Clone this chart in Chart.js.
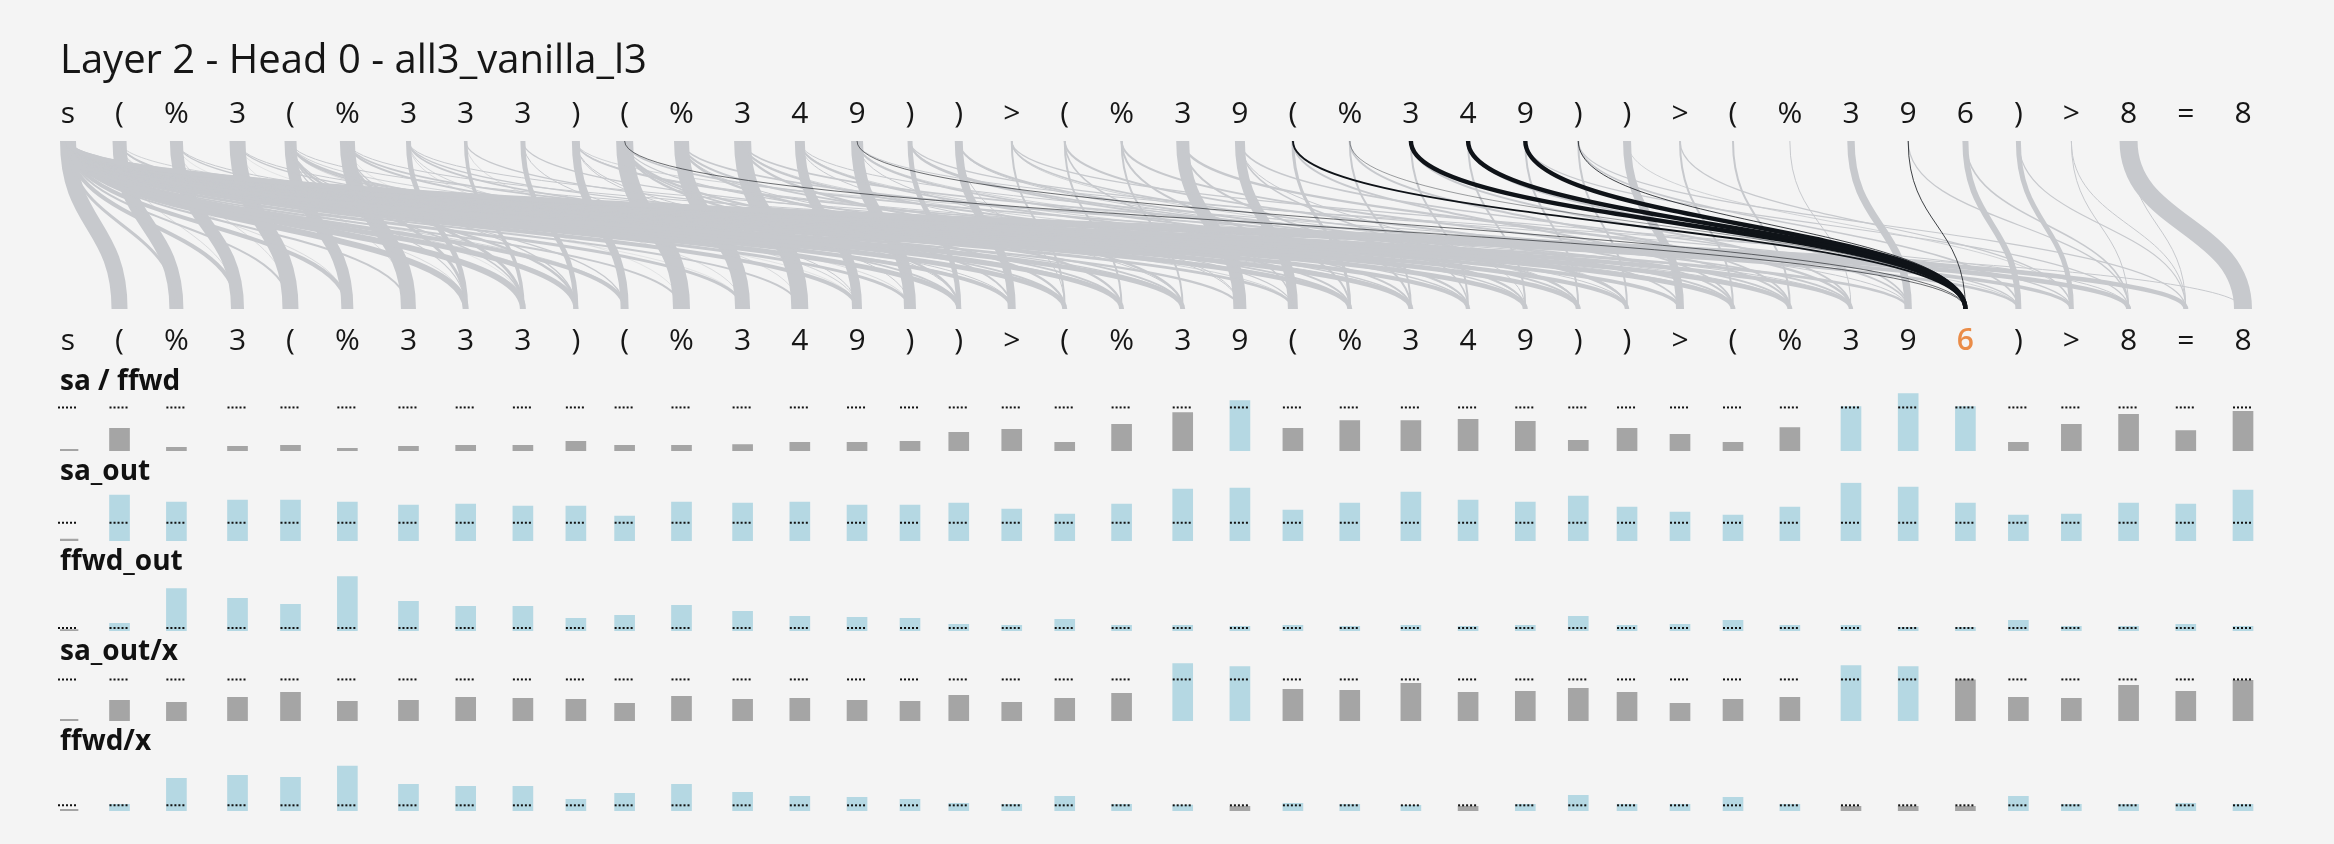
<!DOCTYPE html>
<html>
<head>
<meta charset="utf-8">
<script src="https://cdn.jsdelivr.net/npm/chart.js@4.4.1/dist/chart.umd.min.js"></script>
<style>
  html, body { margin: 0; padding: 0; background: #f4f4f4; }
  #page { position: relative; width: 2334px; height: 844px; overflow: hidden; }
  canvas { position: absolute; left: 0; }
</style>
</head>
<body>
<div id="page">
  <canvas id="attn" width="2334" height="374" style="top:0px"></canvas>
  <canvas id="row0" width="2334" height="92" style="top:361px"></canvas>
  <canvas id="row1" width="2334" height="92" style="top:451px"></canvas>
  <canvas id="row2" width="2334" height="92" style="top:541px"></canvas>
  <canvas id="row3" width="2334" height="92" style="top:631px"></canvas>
  <canvas id="row4" width="2334" height="92" style="top:721px"></canvas>
</div>
<script>
var title = 'Layer 2 - Head 0 - all3_vanilla_l3';
var tokens = ['s','(','%','3','(','%','3','3','3',')','(','%','3','4','9',')',')','>','(','%',
              '3','9','(','%','3','4','9',')',')','>','(','%','3','9','6',')','>','8','=','8'];
var focusIndex = 34;

// attention of each query (bottom token): [key index (top token), weight]
var attnRows = [
  [],
  [[0, 0.8]],
  [[1, 0.7], [0, 0.15]],
  [[2, 0.65], [0, 0.2], [1, 0.03]],
  [[3, 0.8], [0, 0.1], [2, 0.03]],
  [[4, 0.6], [0, 0.2], [1, 0.03]],
  [[5, 0.75], [0, 0.1], [4, 0.03]],
  [[6, 0.25], [0, 0.3], [5, 0.15], [4, 0.06], [2, 0.03]],
  [[7, 0.18], [0, 0.3], [5, 0.15], [4, 0.08], [3, 0.02]],
  [[8, 0.25], [0, 0.25], [4, 0.12], [5, 0.06], [1, 0.03]],
  [[9, 0.4], [0, 0.2], [4, 0.06], [1, 0.04]],
  [[10, 0.85], [0, 0.1], [5, 0.02]],
  [[11, 0.75], [0, 0.15], [6, 0.03], [2, 0.02]],
  [[12, 0.85], [0, 0.1], [7, 0.03]],
  [[13, 0.5], [0, 0.2], [8, 0.05], [6, 0.04], [3, 0.02]],
  [[14, 0.6], [0, 0.15], [9, 0.05], [4, 0.03]],
  [[15, 0.25], [0, 0.25], [10, 0.12], [4, 0.08], [9, 0.05], [1, 0.04]],
  [[16, 0.4], [0, 0.2], [1, 0.06], [10, 0.08], [4, 0.05]],
  [[17, 0.1], [0, 0.25], [10, 0.12], [4, 0.1], [1, 0.06], [16, 0.05]],
  [[18, 0.1], [0, 0.25], [11, 0.12], [5, 0.1], [2, 0.06]],
  [[19, 0.1], [0, 0.25], [12, 0.12], [6, 0.08], [3, 0.06], [11, 0.05]],
  [[20, 0.65], [0, 0.12], [13, 0.05], [14, 0.05]],
  [[21, 0.5], [0, 0.15], [18, 0.08], [10, 0.06], [4, 0.04]],
  [[22, 0.15], [0, 0.25], [19, 0.1], [11, 0.1], [5, 0.08], [2, 0.05]],
  [[23, 0.1], [0, 0.25], [12, 0.1], [20, 0.1], [6, 0.06], [3, 0.05]],
  [[24, 0.1], [0, 0.22], [13, 0.1], [21, 0.08], [7, 0.06], [12, 0.04]],
  [[25, 0.1], [0, 0.25], [14, 0.1], [8, 0.06], [21, 0.05], [13, 0.04]],
  [[26, 0.1], [0, 0.25], [15, 0.1], [9, 0.08], [16, 0.05], [14, 0.04]],
  [[27, 0.1], [0, 0.22], [16, 0.1], [15, 0.08], [9, 0.05], [17, 0.04]],
  [[28, 0.4], [0, 0.2], [17, 0.08], [1, 0.04]],
  [[29, 0.1], [0, 0.25], [18, 0.1], [22, 0.1], [10, 0.08], [4, 0.05]],
  [[30, 0.1], [0, 0.25], [19, 0.1], [23, 0.1], [11, 0.08], [5, 0.05]],
  [[31, 0.05], [0, 0.22], [24, 0.1], [20, 0.12], [12, 0.08], [6, 0.05]],
  [[32, 0.37], [0, 0.15], [25, 0.08], [21, 0.08], [13, 0.05]],
  [[22, 0.09], [24, 0.22], [25, 0.22], [26, 0.22], [27, 0.04], [33, 0.04], [14, 0.03], [10, 0.03], [23, 0.02]],
  [[34, 0.3], [0, 0.15], [27, 0.08], [15, 0.06], [9, 0.04]],
  [[35, 0.25], [0, 0.2], [29, 0.06], [17, 0.06], [28, 0.04]],
  [[36, 0.05], [0, 0.25], [34, 0.08], [26, 0.06], [33, 0.06], [14, 0.05]],
  [[37, 0.05], [0, 0.25], [35, 0.06], [27, 0.06], [36, 0.05]],
  [[37, 0.9], [0, 0.05]]
];

var rowLabels = ['sa / ffwd', 'sa_out', 'ffwd_out', 'sa_out/x', 'ffwd/x'];
var saFfwd = [0.04, 0.52, 0.084, 0.107, 0.13, 0.06, 0.107, 0.13, 0.13, 0.22, 0.13, 0.13, 0.15, 0.2, 0.2, 0.22, 0.43, 0.5, 0.2, 0.61,
              0.885, 1.16, 0.52, 0.70, 0.70, 0.725, 0.68, 0.245, 0.52, 0.38, 0.2, 0.54, 1.02, 1.32, 1.02, 0.2, 0.61, 0.84, 0.47, 0.91];
var saOut = [0.11, 2.51, 2.13, 2.24, 2.24, 2.13, 1.97, 2.02, 1.91, 1.91, 1.37, 2.13, 2.08, 2.13, 1.97, 1.97, 2.08, 1.75, 1.48, 2.02,
             2.84, 2.9, 1.69, 2.08, 2.68, 2.24, 2.13, 2.46, 1.86, 1.58, 1.42, 1.86, 3.17, 2.95, 2.08, 1.42, 1.48, 2.08, 2.02, 2.79];
var ffwdOut = [0.44, 2.56, 14.2, 10.9, 8.9, 18.2, 9.9, 8.2, 8.2, 4.2, 5.2, 8.6, 6.6, 4.9, 4.6, 4.2, 2.2, 1.9, 3.9, 1.9,
               1.9, 1.56, 1.9, 1.56, 1.9, 1.56, 1.9, 4.9, 1.9, 2.2, 3.6, 1.9, 1.9, 1.2, 1.2, 3.6, 1.56, 1.56, 2.2, 1.56];
var saOutX = [0.04, 0.496, 0.448, 0.568, 0.688, 0.472, 0.496, 0.568, 0.544, 0.52, 0.424, 0.592, 0.52, 0.544, 0.496, 0.472, 0.616, 0.448, 0.544, 0.664,
              1.384, 1.312, 0.76, 0.736, 0.904, 0.688, 0.712, 0.784, 0.688, 0.424, 0.52, 0.568, 1.336, 1.312, 0.99, 0.568, 0.544, 0.856, 0.712, 0.976];
var ffwdX = [0.29, 1.18, 5.76, 6.3, 5.94, 7.9, 4.7, 4.35, 4.35, 2.06, 3.1, 4.7, 3.3, 2.6, 2.4, 2.06, 1.35, 1.18, 2.6, 1.18,
             1.05, 0.82, 1.35, 1.18, 1.02, 0.82, 1.18, 2.76, 1.18, 1.18, 2.4, 1.18, 0.82, 0.82, 0.82, 2.6, 1.18, 1.18, 1.35, 1.18];
var rowValues = [saFfwd, saOut, ffwdOut, saOutX, ffwdX];
var refValue = 1;
var rowMax = [1.341, 3.2, 19.5, 1.405, 10.28];

var INK = '#161616', ORANGE = '#ea8c48', BLUE = '#b5d8e3', GREY = '#a5a5a5';
var LINK_GREY = '#c7c9cd', LINK_DARK = '#0f1318';
var maxLinkWidth = 20;
var FAMILY = '"Open Sans", "Noto Sans", sans-serif';

Chart.defaults.font.family = FAMILY;
Chart.defaults.animation = false;
Chart.defaults.plugins.legend.display = false;
Chart.defaults.plugins.tooltip.enabled = false;

// token x positions follow the text layout: glyph width plus a fixed gap
var measure = document.createElement('canvas').getContext('2d');
measure.font = '400 30px ' + FAMILY;
var tokenGap = 39;
var tokenPos = [];
var cursor = 0;
tokens.forEach(function(t) {
  var w = measure.measureText(t).width;
  tokenPos.push(cursor + w / 2);
  cursor += w + tokenGap;
});
var span = tokenPos[tokenPos.length - 1] - tokenPos[0];
var k = span / 2175;
var xMin = tokenPos[0] - 8 * k;
var xMax = tokenPos[tokenPos.length - 1] + 31 * k;

function tokenAxis(position, pad) {
  return {
    type: 'linear', position: position, min: xMin, max: xMax, offset: false,
    grid: { display: false, drawTicks: false }, border: { display: false },
    afterBuildTicks: function(axis) { axis.ticks = tokenPos.map(function(v) { return { value: v }; }); },
    ticks: {
      autoSkip: false, maxRotation: 0, padding: pad,
      font: function(c) { return { size: 30, weight: (position === 'bottom' && c.index === focusIndex) ? 600 : 400, lineHeight: 1.2 }; },
      color: function(c) { return (position === 'bottom' && c.index === focusIndex) ? ORANGE : INK; },
      callback: function(v, i) { return tokens[i]; }
    }
  };
}

var linkPlugin = {
  id: 'links',
  beforeDatasetsDraw: function(chart) {
    var ctx = chart.ctx, xs = chart.scales.x, ys = chart.scales.y;
    var yTop = ys.getPixelForValue(1), yBot = ys.getPixelForValue(0), yMid = (yTop + yBot) / 2;
    ctx.save();
    ctx.lineCap = 'butt';
    [false, true].forEach(function(drawFocus) {
      attnRows.forEach(function(row, q) {
        if ((q === focusIndex) !== drawFocus) return;
        row.forEach(function(link) {
          var x0 = xs.getPixelForValue(tokenPos[link[0]]);
          var x1 = xs.getPixelForValue(tokenPos[q]);
          ctx.beginPath();
          ctx.moveTo(x0, yTop);
          ctx.bezierCurveTo(x0, yMid, x1, yMid, x1, yBot);
          ctx.lineWidth = link[1] * maxLinkWidth;
          ctx.strokeStyle = drawFocus ? LINK_DARK : LINK_GREY;
          ctx.stroke();
        });
      });
    });
    ctx.restore();
  }
};

new Chart(document.getElementById('attn'), {
  type: 'line',
  data: { datasets: [] },
  options: {
    responsive: false, devicePixelRatio: 1,
    layout: { padding: { left: 60, right: 60, top: 0, bottom: 0 } },
    plugins: {
      title: {
        display: true, text: title, align: 'start', color: INK,
        font: { size: 40, weight: 'normal', lineHeight: 1.2 },
        padding: { top: 38, bottom: 2 }
      }
    },
    scales: {
      x: tokenAxis('bottom', 14.5),
      xTop: tokenAxis('top', 8.5),
      y: { display: false, min: 0, max: 1 }
    }
  },
  plugins: [linkPlugin]
});

var refPlugin = {
  id: 'refLine',
  afterDatasetsDraw: function(chart) {
    var ctx = chart.ctx;
    var y = chart.scales.y.getPixelForValue(refValue);
    ctx.save();
    ctx.strokeStyle = '#111';
    ctx.lineWidth = 2;
    ctx.setLineDash([2, 2]);
    chart.getDatasetMeta(0).data.forEach(function(bar) {
      ctx.beginPath();
      ctx.moveTo(bar.x - bar.width / 2, y);
      ctx.lineTo(bar.x + bar.width / 2 - 2, y);
      ctx.stroke();
    });
    ctx.restore();
  }
};

rowValues.forEach(function(values, r) {
  new Chart(document.getElementById('row' + r), {
    type: 'bar',
    data: {
      datasets: [{
        data: values.map(function(v, i) { return { x: tokenPos[i], y: v }; }),
        backgroundColor: function(c) { return values[c.dataIndex] > refValue ? BLUE : GREY; },
        barThickness: 20,
        borderWidth: 0
      }]
    },
    options: {
      responsive: false, devicePixelRatio: 1,
      layout: { padding: { left: 60, right: 60, top: 0, bottom: 2 } },
      plugins: {
        title: {
          display: true, text: rowLabels[r], align: 'start', color: '#111',
          font: { size: 28, weight: 'bold', lineHeight: 0.75 },
          padding: { top: 10.6, bottom: 0 }
        }
      },
      scales: {
        x: { type: 'linear', display: false, min: xMin, max: xMax, offset: false },
        y: { display: false, min: 0, max: rowMax[r] }
      }
    },
    plugins: [refPlugin]
  });
});
</script>
</body>
</html>
